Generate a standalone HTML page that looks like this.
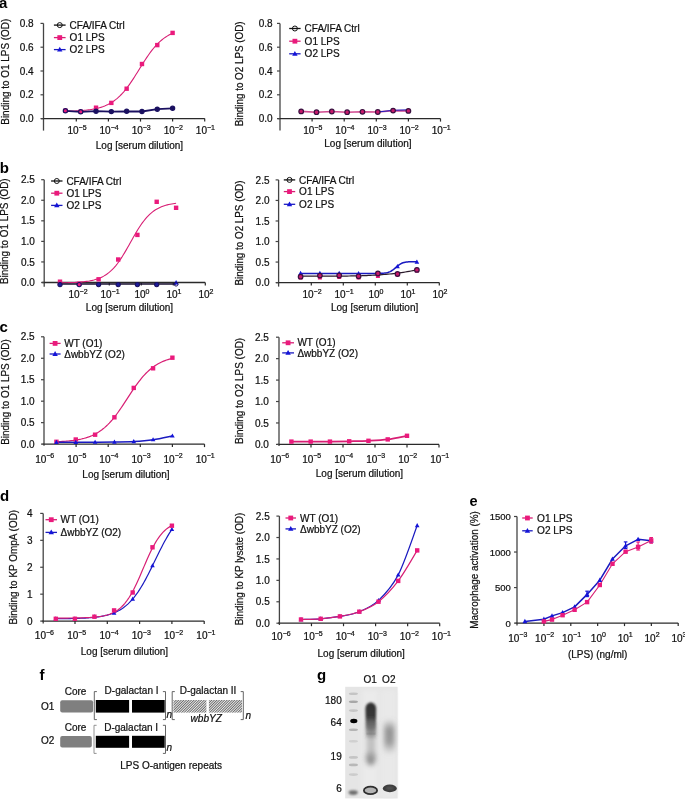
<!DOCTYPE html>
<html><head><meta charset="utf-8"><style>
html,body{margin:0;padding:0;background:#fff;}
svg{display:block;font-family:"Liberation Sans",sans-serif;will-change:transform;}
</style></head><body>
<svg width="685" height="799" viewBox="0 0 685 799" font-family="Liberation Sans, sans-serif">
<rect width="685" height="799" fill="#fff"/>
<text transform="translate(-1.00,7.80) scale(1.0000,1)" font-size="15.000" text-anchor="start" font-weight="bold" font-style="normal" fill="#000" stroke="#000" stroke-width="0" >a</text>
<line x1="43.50" y1="23.40" x2="43.50" y2="130.60" stroke="#444" stroke-width="1.3"/>
<line x1="41.00" y1="118.60" x2="204.80" y2="118.60" stroke="#2a2a2a" stroke-width="1.3"/>
<line x1="40.50" y1="118.60" x2="43.50" y2="118.60" stroke="#444" stroke-width="1.2"/>
<text transform="translate(33.60,122.20) scale(1.0000,1)" font-size="10.000" text-anchor="end" font-weight="normal" font-style="normal" fill="#111" stroke="#111" stroke-width="0.22" >0.0</text>
<line x1="40.50" y1="94.80" x2="43.50" y2="94.80" stroke="#444" stroke-width="1.2"/>
<text transform="translate(33.60,98.40) scale(1.0000,1)" font-size="10.000" text-anchor="end" font-weight="normal" font-style="normal" fill="#111" stroke="#111" stroke-width="0.22" >0.2</text>
<line x1="40.50" y1="71.00" x2="43.50" y2="71.00" stroke="#444" stroke-width="1.2"/>
<text transform="translate(33.60,74.60) scale(1.0000,1)" font-size="10.000" text-anchor="end" font-weight="normal" font-style="normal" fill="#111" stroke="#111" stroke-width="0.22" >0.4</text>
<line x1="40.50" y1="47.20" x2="43.50" y2="47.20" stroke="#444" stroke-width="1.2"/>
<text transform="translate(33.60,50.80) scale(1.0000,1)" font-size="10.000" text-anchor="end" font-weight="normal" font-style="normal" fill="#111" stroke="#111" stroke-width="0.22" >0.6</text>
<line x1="40.50" y1="23.40" x2="43.50" y2="23.40" stroke="#444" stroke-width="1.2"/>
<text transform="translate(33.60,27.00) scale(1.0000,1)" font-size="10.000" text-anchor="end" font-weight="normal" font-style="normal" fill="#111" stroke="#111" stroke-width="0.22" >0.8</text>
<line x1="76.30" y1="118.60" x2="76.30" y2="121.60" stroke="#2a2a2a" stroke-width="1.2"/>
<line x1="108.40" y1="118.60" x2="108.40" y2="121.60" stroke="#2a2a2a" stroke-width="1.2"/>
<line x1="140.50" y1="118.60" x2="140.50" y2="121.60" stroke="#2a2a2a" stroke-width="1.2"/>
<line x1="172.60" y1="118.60" x2="172.60" y2="121.60" stroke="#2a2a2a" stroke-width="1.2"/>
<line x1="204.70" y1="118.60" x2="204.70" y2="121.60" stroke="#2a2a2a" stroke-width="1.2"/>
<text transform="translate(77.00,133.70) scale(1.0000,1)" font-size="10.000" text-anchor="middle" fill="#111" stroke="#111" stroke-width="0.22">10<tspan font-size="7.000" dy="-4.2">−5</tspan></text>
<text transform="translate(109.10,133.70) scale(1.0000,1)" font-size="10.000" text-anchor="middle" fill="#111" stroke="#111" stroke-width="0.22">10<tspan font-size="7.000" dy="-4.2">−4</tspan></text>
<text transform="translate(141.20,133.70) scale(1.0000,1)" font-size="10.000" text-anchor="middle" fill="#111" stroke="#111" stroke-width="0.22">10<tspan font-size="7.000" dy="-4.2">−3</tspan></text>
<text transform="translate(173.30,133.70) scale(1.0000,1)" font-size="10.000" text-anchor="middle" fill="#111" stroke="#111" stroke-width="0.22">10<tspan font-size="7.000" dy="-4.2">−2</tspan></text>
<text transform="translate(205.40,133.70) scale(1.0000,1)" font-size="10.000" text-anchor="middle" fill="#111" stroke="#111" stroke-width="0.22">10<tspan font-size="7.000" dy="-4.2">−1</tspan></text>
<text transform="translate(139.40,149.40) scale(1.0000,1)" font-size="10.000" text-anchor="middle" font-weight="normal" font-style="normal" fill="#111" stroke="#111" stroke-width="0.22" >Log [serum dilution]</text>
<text x="0" y="0" font-size="9.95" text-anchor="middle" fill="#111" stroke="#111" stroke-width="0.22" transform="translate(8.70,71.70) scale(1.05,1) rotate(-90)">Binding to O1 LPS (OD)</text>
<path d="M65.39,111.27 L66.75,111.23 L68.11,111.20 L69.46,111.16 L70.82,111.12 L72.18,111.07 L73.53,111.01 L74.89,110.95 L76.25,110.89 L77.60,110.81 L78.96,110.73 L80.32,110.64 L81.68,110.54 L83.03,110.43 L84.39,110.31 L85.75,110.18 L87.10,110.03 L88.46,109.86 L89.82,109.68 L91.18,109.48 L92.53,109.26 L93.89,109.02 L95.25,108.75 L96.60,108.45 L97.96,108.12 L99.32,107.76 L100.67,107.37 L102.03,106.93 L103.39,106.46 L104.75,105.93 L106.10,105.36 L107.46,104.74 L108.82,104.06 L110.17,103.32 L111.53,102.51 L112.89,101.64 L114.25,100.69 L115.60,99.67 L116.96,98.56 L118.32,97.38 L119.67,96.11 L121.03,94.75 L122.39,93.31 L123.75,91.78 L125.10,90.16 L126.46,88.46 L127.82,86.68 L129.17,84.82 L130.53,82.88 L131.89,80.89 L133.24,78.83 L134.60,76.73 L135.96,74.58 L137.32,72.42 L138.67,70.23 L140.03,68.04 L141.39,65.86 L142.74,63.70 L144.10,61.56 L145.46,59.47 L146.82,57.43 L148.17,55.45 L149.53,53.53 L150.89,51.69 L152.24,49.93 L153.60,48.25 L154.96,46.66 L156.32,45.15 L157.67,43.73 L159.03,42.40 L160.39,41.15 L161.74,39.99 L163.10,38.91 L164.46,37.91 L165.81,36.98 L167.17,36.13 L168.53,35.34 L169.89,34.61 L171.24,33.95 L172.60,33.34" fill="none" stroke="#d81e74" stroke-width="1.1"/>
<polyline points="65.39,110.80 80.71,111.80 96.02,111.20 111.34,111.60 126.65,111.30 141.97,111.50 157.28,109.20 172.60,108.30" fill="none" stroke="#1a1060" stroke-width="1.8" stroke-linejoin="round"/>
<rect x="63.19" y="108.50" width="4.4" height="4.4" fill="#ea1a7c"/>
<rect x="78.51" y="109.50" width="4.4" height="4.4" fill="#ea1a7c"/>
<rect x="93.82" y="105.50" width="4.4" height="4.4" fill="#ea1a7c"/>
<rect x="109.14" y="100.70" width="4.4" height="4.4" fill="#ea1a7c"/>
<rect x="124.45" y="86.50" width="4.4" height="4.4" fill="#ea1a7c"/>
<rect x="139.77" y="61.80" width="4.4" height="4.4" fill="#ea1a7c"/>
<rect x="155.08" y="42.90" width="4.4" height="4.4" fill="#ea1a7c"/>
<rect x="170.40" y="30.70" width="4.4" height="4.4" fill="#ea1a7c"/>
<circle cx="65.39" cy="110.80" r="2.1" fill="#ea1a7c" stroke="#1a1060" stroke-width="1.2"/>
<circle cx="80.71" cy="111.80" r="2.1" fill="#ea1a7c" stroke="#1a1060" stroke-width="1.2"/>
<circle cx="96.02" cy="111.20" r="2.1" fill="#1a1060" stroke="#1a1060" stroke-width="1.2"/>
<circle cx="111.34" cy="111.60" r="2.1" fill="#1a1060" stroke="#1a1060" stroke-width="1.2"/>
<circle cx="126.65" cy="111.30" r="2.1" fill="#1a1060" stroke="#1a1060" stroke-width="1.2"/>
<circle cx="141.97" cy="111.50" r="2.1" fill="#1a1060" stroke="#1a1060" stroke-width="1.2"/>
<circle cx="157.28" cy="109.20" r="2.1" fill="#1a1060" stroke="#1a1060" stroke-width="1.2"/>
<circle cx="172.60" cy="108.30" r="2.1" fill="#1a1060" stroke="#1a1060" stroke-width="1.2"/>
<line x1="53.90" y1="25.10" x2="65.60" y2="25.10" stroke="#111" stroke-width="1.3"/>
<circle cx="59.75" cy="25.10" r="2.5" fill="none" stroke="#111" stroke-width="1.0"/>
<text transform="translate(69.60,28.70) scale(1.0000,1)" font-size="10.000" text-anchor="start" font-weight="normal" font-style="normal" fill="#111" stroke="#111" stroke-width="0.22" >CFA/IFA Ctrl</text>
<line x1="53.90" y1="37.60" x2="65.60" y2="37.60" stroke="#d81e74" stroke-width="1.3"/>
<rect x="57.35" y="35.20" width="4.8" height="4.8" fill="#ea1a7c"/>
<text transform="translate(69.60,41.20) scale(1.0000,1)" font-size="10.000" text-anchor="start" font-weight="normal" font-style="normal" fill="#111" stroke="#111" stroke-width="0.22" >O1 LPS</text>
<line x1="53.90" y1="49.60" x2="65.60" y2="49.60" stroke="#1a1ac0" stroke-width="1.3"/>
<path d="M59.75,46.68 L62.45,51.54 L57.05,51.54 Z" fill="#1414d8"/>
<text transform="translate(69.60,53.20) scale(1.0000,1)" font-size="10.000" text-anchor="start" font-weight="normal" font-style="normal" fill="#111" stroke="#111" stroke-width="0.22" >O2 LPS</text>
<line x1="280.00" y1="23.40" x2="280.00" y2="130.60" stroke="#444" stroke-width="1.3"/>
<line x1="277.50" y1="118.60" x2="440.50" y2="118.60" stroke="#2a2a2a" stroke-width="1.3"/>
<line x1="277.00" y1="118.60" x2="280.00" y2="118.60" stroke="#444" stroke-width="1.2"/>
<text transform="translate(272.60,122.20) scale(1.0000,1)" font-size="10.000" text-anchor="end" font-weight="normal" font-style="normal" fill="#111" stroke="#111" stroke-width="0.22" >0.0</text>
<line x1="277.00" y1="94.80" x2="280.00" y2="94.80" stroke="#444" stroke-width="1.2"/>
<text transform="translate(272.60,98.40) scale(1.0000,1)" font-size="10.000" text-anchor="end" font-weight="normal" font-style="normal" fill="#111" stroke="#111" stroke-width="0.22" >0.2</text>
<line x1="277.00" y1="71.00" x2="280.00" y2="71.00" stroke="#444" stroke-width="1.2"/>
<text transform="translate(272.60,74.60) scale(1.0000,1)" font-size="10.000" text-anchor="end" font-weight="normal" font-style="normal" fill="#111" stroke="#111" stroke-width="0.22" >0.4</text>
<line x1="277.00" y1="47.20" x2="280.00" y2="47.20" stroke="#444" stroke-width="1.2"/>
<text transform="translate(272.60,50.80) scale(1.0000,1)" font-size="10.000" text-anchor="end" font-weight="normal" font-style="normal" fill="#111" stroke="#111" stroke-width="0.22" >0.6</text>
<line x1="277.00" y1="23.40" x2="280.00" y2="23.40" stroke="#444" stroke-width="1.2"/>
<text transform="translate(272.60,27.00) scale(1.0000,1)" font-size="10.000" text-anchor="end" font-weight="normal" font-style="normal" fill="#111" stroke="#111" stroke-width="0.22" >0.8</text>
<line x1="312.10" y1="118.60" x2="312.10" y2="121.60" stroke="#2a2a2a" stroke-width="1.2"/>
<line x1="344.20" y1="118.60" x2="344.20" y2="121.60" stroke="#2a2a2a" stroke-width="1.2"/>
<line x1="376.30" y1="118.60" x2="376.30" y2="121.60" stroke="#2a2a2a" stroke-width="1.2"/>
<line x1="408.40" y1="118.60" x2="408.40" y2="121.60" stroke="#2a2a2a" stroke-width="1.2"/>
<line x1="440.50" y1="118.60" x2="440.50" y2="121.60" stroke="#2a2a2a" stroke-width="1.2"/>
<text transform="translate(312.80,133.70) scale(1.0000,1)" font-size="10.000" text-anchor="middle" fill="#111" stroke="#111" stroke-width="0.22">10<tspan font-size="7.000" dy="-4.2">−5</tspan></text>
<text transform="translate(344.90,133.70) scale(1.0000,1)" font-size="10.000" text-anchor="middle" fill="#111" stroke="#111" stroke-width="0.22">10<tspan font-size="7.000" dy="-4.2">−4</tspan></text>
<text transform="translate(377.00,133.70) scale(1.0000,1)" font-size="10.000" text-anchor="middle" fill="#111" stroke="#111" stroke-width="0.22">10<tspan font-size="7.000" dy="-4.2">−3</tspan></text>
<text transform="translate(409.10,133.70) scale(1.0000,1)" font-size="10.000" text-anchor="middle" fill="#111" stroke="#111" stroke-width="0.22">10<tspan font-size="7.000" dy="-4.2">−2</tspan></text>
<text transform="translate(441.20,133.70) scale(1.0000,1)" font-size="10.000" text-anchor="middle" fill="#111" stroke="#111" stroke-width="0.22">10<tspan font-size="7.000" dy="-4.2">−1</tspan></text>
<text transform="translate(367.90,147.30) scale(1.0000,1)" font-size="10.000" text-anchor="middle" font-weight="normal" font-style="normal" fill="#111" stroke="#111" stroke-width="0.22" >Log [serum dilution]</text>
<text x="0" y="0" font-size="9.85" text-anchor="middle" fill="#111" stroke="#111" stroke-width="0.22" transform="translate(242.80,73.90) scale(1.05,1) rotate(-90)">Binding to O2 LPS (OD)</text>
<polyline points="301.19,111.40 316.51,112.20 331.82,111.50 347.14,112.20 362.45,111.80 377.77,112.00 393.08,110.60 408.40,110.90" fill="none" stroke="#d04a90" stroke-width="1.6" stroke-linejoin="round"/>
<polyline points="377.77,112.00 393.08,110.30 408.40,109.80" fill="none" stroke="#1a1ac0" stroke-width="1.0" stroke-linejoin="round"/>
<circle cx="301.19" cy="111.40" r="2.3" fill="#c8186a" stroke="#3a1040" stroke-width="1.2"/>
<circle cx="316.51" cy="112.20" r="2.3" fill="#c8186a" stroke="#3a1040" stroke-width="1.2"/>
<circle cx="331.82" cy="111.50" r="2.3" fill="#c8186a" stroke="#3a1040" stroke-width="1.2"/>
<circle cx="347.14" cy="112.20" r="2.3" fill="#c8186a" stroke="#3a1040" stroke-width="1.2"/>
<circle cx="362.45" cy="111.80" r="2.3" fill="#c8186a" stroke="#3a1040" stroke-width="1.2"/>
<circle cx="377.77" cy="112.00" r="2.3" fill="#c8186a" stroke="#3a1040" stroke-width="1.2"/>
<circle cx="393.08" cy="110.60" r="2.3" fill="#c8186a" stroke="#3a1040" stroke-width="1.2"/>
<circle cx="408.40" cy="110.90" r="2.3" fill="#c8186a" stroke="#3a1040" stroke-width="1.2"/>
<line x1="289.20" y1="28.50" x2="300.60" y2="28.50" stroke="#111" stroke-width="1.3"/>
<circle cx="294.90" cy="28.50" r="2.5" fill="none" stroke="#111" stroke-width="1.0"/>
<text transform="translate(304.60,32.10) scale(1.0000,1)" font-size="10.000" text-anchor="start" font-weight="normal" font-style="normal" fill="#111" stroke="#111" stroke-width="0.22" >CFA/IFA Ctrl</text>
<line x1="289.20" y1="41.20" x2="300.60" y2="41.20" stroke="#d81e74" stroke-width="1.3"/>
<rect x="292.50" y="38.80" width="4.8" height="4.8" fill="#ea1a7c"/>
<text transform="translate(304.60,44.80) scale(1.0000,1)" font-size="10.000" text-anchor="start" font-weight="normal" font-style="normal" fill="#111" stroke="#111" stroke-width="0.22" >O1 LPS</text>
<line x1="289.20" y1="53.80" x2="300.60" y2="53.80" stroke="#1a1ac0" stroke-width="1.3"/>
<path d="M294.90,50.88 L297.60,55.74 L292.20,55.74 Z" fill="#1414d8"/>
<text transform="translate(304.60,57.40) scale(1.0000,1)" font-size="10.000" text-anchor="start" font-weight="normal" font-style="normal" fill="#111" stroke="#111" stroke-width="0.22" >O2 LPS</text>
<text transform="translate(-0.30,172.80) scale(1.0000,1)" font-size="15.000" text-anchor="start" font-weight="bold" font-style="normal" fill="#000" stroke="#000" stroke-width="0" >b</text>
<line x1="44.20" y1="179.70" x2="44.20" y2="286.70" stroke="#444" stroke-width="1.3"/>
<line x1="41.80" y1="282.50" x2="205.20" y2="282.50" stroke="#2a2a2a" stroke-width="1.3"/>
<line x1="41.20" y1="282.50" x2="44.20" y2="282.50" stroke="#444" stroke-width="1.2"/>
<text transform="translate(34.90,286.10) scale(1.0000,1)" font-size="10.000" text-anchor="end" font-weight="normal" font-style="normal" fill="#111" stroke="#111" stroke-width="0.22" >0.0</text>
<line x1="41.20" y1="261.94" x2="44.20" y2="261.94" stroke="#444" stroke-width="1.2"/>
<text transform="translate(34.90,265.54) scale(1.0000,1)" font-size="10.000" text-anchor="end" font-weight="normal" font-style="normal" fill="#111" stroke="#111" stroke-width="0.22" >0.5</text>
<line x1="41.20" y1="241.38" x2="44.20" y2="241.38" stroke="#444" stroke-width="1.2"/>
<text transform="translate(34.90,244.98) scale(1.0000,1)" font-size="10.000" text-anchor="end" font-weight="normal" font-style="normal" fill="#111" stroke="#111" stroke-width="0.22" >1.0</text>
<line x1="41.20" y1="220.82" x2="44.20" y2="220.82" stroke="#444" stroke-width="1.2"/>
<text transform="translate(34.90,224.42) scale(1.0000,1)" font-size="10.000" text-anchor="end" font-weight="normal" font-style="normal" fill="#111" stroke="#111" stroke-width="0.22" >1.5</text>
<line x1="41.20" y1="200.26" x2="44.20" y2="200.26" stroke="#444" stroke-width="1.2"/>
<text transform="translate(34.90,203.86) scale(1.0000,1)" font-size="10.000" text-anchor="end" font-weight="normal" font-style="normal" fill="#111" stroke="#111" stroke-width="0.22" >2.0</text>
<line x1="41.20" y1="179.70" x2="44.20" y2="179.70" stroke="#444" stroke-width="1.2"/>
<text transform="translate(34.90,183.30) scale(1.0000,1)" font-size="10.000" text-anchor="end" font-weight="normal" font-style="normal" fill="#111" stroke="#111" stroke-width="0.22" >2.5</text>
<line x1="77.30" y1="282.50" x2="77.30" y2="285.50" stroke="#2a2a2a" stroke-width="1.2"/>
<line x1="109.30" y1="282.50" x2="109.30" y2="285.50" stroke="#2a2a2a" stroke-width="1.2"/>
<line x1="141.30" y1="282.50" x2="141.30" y2="285.50" stroke="#2a2a2a" stroke-width="1.2"/>
<line x1="173.30" y1="282.50" x2="173.30" y2="285.50" stroke="#2a2a2a" stroke-width="1.2"/>
<line x1="205.30" y1="282.50" x2="205.30" y2="285.50" stroke="#2a2a2a" stroke-width="1.2"/>
<text transform="translate(78.00,298.10) scale(1.0000,1)" font-size="10.000" text-anchor="middle" fill="#111" stroke="#111" stroke-width="0.22">10<tspan font-size="7.000" dy="-4.2">−2</tspan></text>
<text transform="translate(110.00,298.10) scale(1.0000,1)" font-size="10.000" text-anchor="middle" fill="#111" stroke="#111" stroke-width="0.22">10<tspan font-size="7.000" dy="-4.2">−1</tspan></text>
<text transform="translate(142.00,298.10) scale(1.0000,1)" font-size="10.000" text-anchor="middle" fill="#111" stroke="#111" stroke-width="0.22">10<tspan font-size="7.000" dy="-4.2">0</tspan></text>
<text transform="translate(174.00,298.10) scale(1.0000,1)" font-size="10.000" text-anchor="middle" fill="#111" stroke="#111" stroke-width="0.22">10<tspan font-size="7.000" dy="-4.2">1</tspan></text>
<text transform="translate(206.00,298.10) scale(1.0000,1)" font-size="10.000" text-anchor="middle" fill="#111" stroke="#111" stroke-width="0.22">10<tspan font-size="7.000" dy="-4.2">2</tspan></text>
<text transform="translate(129.50,310.50) scale(1.0000,1)" font-size="10.000" text-anchor="middle" font-weight="normal" font-style="normal" fill="#111" stroke="#111" stroke-width="0.22" >Log [serum dilution]</text>
<text x="0" y="0" font-size="9.9" text-anchor="middle" fill="#111" stroke="#111" stroke-width="0.22" transform="translate(8.20,231.20) scale(1.05,1) rotate(-90)">Binding to O1 LPS (OD)</text>
<path d="M60.00,282.85 L61.47,282.83 L62.94,282.81 L64.41,282.78 L65.88,282.75 L67.35,282.71 L68.82,282.67 L70.29,282.62 L71.76,282.57 L73.23,282.51 L74.70,282.44 L76.17,282.36 L77.64,282.27 L79.11,282.16 L80.57,282.05 L82.04,281.92 L83.51,281.77 L84.98,281.60 L86.45,281.40 L87.92,281.18 L89.39,280.94 L90.86,280.66 L92.33,280.34 L93.80,279.98 L95.27,279.58 L96.74,279.12 L98.21,278.61 L99.68,278.04 L101.15,277.39 L102.62,276.67 L104.09,275.87 L105.56,274.97 L107.03,273.98 L108.50,272.88 L109.97,271.67 L111.44,270.33 L112.91,268.88 L114.38,267.29 L115.85,265.58 L117.32,263.73 L118.78,261.75 L120.25,259.64 L121.72,257.42 L123.19,255.08 L124.66,252.65 L126.13,250.14 L127.60,247.56 L129.07,244.95 L130.54,242.31 L132.01,239.67 L133.48,237.06 L134.95,234.49 L136.42,231.99 L137.89,229.57 L139.36,227.24 L140.83,225.03 L142.30,222.94 L143.77,220.97 L145.24,219.14 L146.71,217.44 L148.18,215.86 L149.65,214.42 L151.12,213.10 L152.59,211.90 L154.06,210.82 L155.53,209.83 L156.99,208.95 L158.46,208.15 L159.93,207.44 L161.40,206.81 L162.87,206.24 L164.34,205.73 L165.81,205.28 L167.28,204.89 L168.75,204.53 L170.22,204.22 L171.69,203.94 L173.16,203.70 L174.63,203.48 L176.10,203.29" fill="none" stroke="#d81e74" stroke-width="1.1"/>
<polyline points="60.00,284.00 79.20,284.00 98.60,284.00 118.20,284.00 137.40,284.00 156.70,284.00 176.10,284.00" fill="none" stroke="#1a1030" stroke-width="1.3" stroke-linejoin="round"/>
<rect x="57.80" y="279.50" width="4.4" height="4.4" fill="#ea1a7c"/>
<rect x="77.00" y="281.60" width="4.4" height="4.4" fill="#ea1a7c"/>
<rect x="96.40" y="277.10" width="4.4" height="4.4" fill="#ea1a7c"/>
<rect x="116.00" y="257.30" width="4.4" height="4.4" fill="#ea1a7c"/>
<rect x="135.20" y="232.70" width="4.4" height="4.4" fill="#ea1a7c"/>
<rect x="154.50" y="199.60" width="4.4" height="4.4" fill="#ea1a7c"/>
<rect x="173.90" y="205.60" width="4.4" height="4.4" fill="#ea1a7c"/>
<circle cx="60.00" cy="284.60" r="2.1" fill="#1c1c9c" stroke="#1a1060" stroke-width="1.1"/>
<circle cx="79.20" cy="284.60" r="2.1" fill="#ea1a7c" stroke="#1a1060" stroke-width="1.1"/>
<circle cx="98.60" cy="284.60" r="2.1" fill="#1c1c9c" stroke="#1a1060" stroke-width="1.1"/>
<circle cx="118.20" cy="284.60" r="2.1" fill="#1c1c9c" stroke="#1a1060" stroke-width="1.1"/>
<circle cx="137.40" cy="284.60" r="2.1" fill="#1c1c9c" stroke="#1a1060" stroke-width="1.1"/>
<circle cx="156.70" cy="284.60" r="2.1" fill="#1c1c9c" stroke="#1a1060" stroke-width="1.1"/>
<path d="M176.10,279.90 L178.60,284.40 L173.60,284.40 Z" fill="#1414d8"/>
<circle cx="176.10" cy="284.20" r="1.9" fill="none" stroke="#1a1060" stroke-width="1.0"/>
<line x1="51.10" y1="181.00" x2="62.50" y2="181.00" stroke="#111" stroke-width="1.3"/>
<circle cx="56.80" cy="181.00" r="2.5" fill="none" stroke="#111" stroke-width="1.0"/>
<text transform="translate(66.40,184.60) scale(1.0000,1)" font-size="10.000" text-anchor="start" font-weight="normal" font-style="normal" fill="#111" stroke="#111" stroke-width="0.22" >CFA/IFA Ctrl</text>
<line x1="51.10" y1="193.20" x2="62.50" y2="193.20" stroke="#d81e74" stroke-width="1.3"/>
<rect x="54.40" y="190.80" width="4.8" height="4.8" fill="#ea1a7c"/>
<text transform="translate(66.40,196.80) scale(1.0000,1)" font-size="10.000" text-anchor="start" font-weight="normal" font-style="normal" fill="#111" stroke="#111" stroke-width="0.22" >O1 LPS</text>
<line x1="51.10" y1="205.40" x2="62.50" y2="205.40" stroke="#1a1ac0" stroke-width="1.3"/>
<path d="M56.80,202.48 L59.50,207.34 L54.10,207.34 Z" fill="#1414d8"/>
<text transform="translate(66.40,209.00) scale(1.0000,1)" font-size="10.000" text-anchor="start" font-weight="normal" font-style="normal" fill="#111" stroke="#111" stroke-width="0.22" >O2 LPS</text>
<line x1="278.60" y1="179.90" x2="278.60" y2="286.60" stroke="#444" stroke-width="1.3"/>
<line x1="276.00" y1="282.60" x2="439.30" y2="282.60" stroke="#2a2a2a" stroke-width="1.3"/>
<line x1="275.60" y1="282.60" x2="278.60" y2="282.60" stroke="#444" stroke-width="1.2"/>
<text transform="translate(269.50,286.20) scale(1.0000,1)" font-size="10.000" text-anchor="end" font-weight="normal" font-style="normal" fill="#111" stroke="#111" stroke-width="0.22" >0.0</text>
<line x1="275.60" y1="262.06" x2="278.60" y2="262.06" stroke="#444" stroke-width="1.2"/>
<text transform="translate(269.50,265.66) scale(1.0000,1)" font-size="10.000" text-anchor="end" font-weight="normal" font-style="normal" fill="#111" stroke="#111" stroke-width="0.22" >0.5</text>
<line x1="275.60" y1="241.52" x2="278.60" y2="241.52" stroke="#444" stroke-width="1.2"/>
<text transform="translate(269.50,245.12) scale(1.0000,1)" font-size="10.000" text-anchor="end" font-weight="normal" font-style="normal" fill="#111" stroke="#111" stroke-width="0.22" >1.0</text>
<line x1="275.60" y1="220.98" x2="278.60" y2="220.98" stroke="#444" stroke-width="1.2"/>
<text transform="translate(269.50,224.58) scale(1.0000,1)" font-size="10.000" text-anchor="end" font-weight="normal" font-style="normal" fill="#111" stroke="#111" stroke-width="0.22" >1.5</text>
<line x1="275.60" y1="200.44" x2="278.60" y2="200.44" stroke="#444" stroke-width="1.2"/>
<text transform="translate(269.50,204.04) scale(1.0000,1)" font-size="10.000" text-anchor="end" font-weight="normal" font-style="normal" fill="#111" stroke="#111" stroke-width="0.22" >2.0</text>
<line x1="275.60" y1="179.90" x2="278.60" y2="179.90" stroke="#444" stroke-width="1.2"/>
<text transform="translate(269.50,183.50) scale(1.0000,1)" font-size="10.000" text-anchor="end" font-weight="normal" font-style="normal" fill="#111" stroke="#111" stroke-width="0.22" >2.5</text>
<line x1="311.30" y1="282.60" x2="311.30" y2="285.60" stroke="#2a2a2a" stroke-width="1.2"/>
<line x1="343.30" y1="282.60" x2="343.30" y2="285.60" stroke="#2a2a2a" stroke-width="1.2"/>
<line x1="375.30" y1="282.60" x2="375.30" y2="285.60" stroke="#2a2a2a" stroke-width="1.2"/>
<line x1="407.30" y1="282.60" x2="407.30" y2="285.60" stroke="#2a2a2a" stroke-width="1.2"/>
<line x1="439.30" y1="282.60" x2="439.30" y2="285.60" stroke="#2a2a2a" stroke-width="1.2"/>
<text transform="translate(312.00,297.90) scale(1.0000,1)" font-size="10.000" text-anchor="middle" fill="#111" stroke="#111" stroke-width="0.22">10<tspan font-size="7.000" dy="-4.2">−2</tspan></text>
<text transform="translate(344.00,297.90) scale(1.0000,1)" font-size="10.000" text-anchor="middle" fill="#111" stroke="#111" stroke-width="0.22">10<tspan font-size="7.000" dy="-4.2">−1</tspan></text>
<text transform="translate(376.00,297.90) scale(1.0000,1)" font-size="10.000" text-anchor="middle" fill="#111" stroke="#111" stroke-width="0.22">10<tspan font-size="7.000" dy="-4.2">0</tspan></text>
<text transform="translate(408.00,297.90) scale(1.0000,1)" font-size="10.000" text-anchor="middle" fill="#111" stroke="#111" stroke-width="0.22">10<tspan font-size="7.000" dy="-4.2">1</tspan></text>
<text transform="translate(440.00,297.90) scale(1.0000,1)" font-size="10.000" text-anchor="middle" fill="#111" stroke="#111" stroke-width="0.22">10<tspan font-size="7.000" dy="-4.2">2</tspan></text>
<text transform="translate(374.60,310.80) scale(1.0000,1)" font-size="10.000" text-anchor="middle" font-weight="normal" font-style="normal" fill="#111" stroke="#111" stroke-width="0.22" >Log [serum dilution]</text>
<text x="0" y="0" font-size="9.85" text-anchor="middle" fill="#111" stroke="#111" stroke-width="0.22" transform="translate(242.80,233.00) scale(1.05,1) rotate(-90)">Binding to O2 LPS (OD)</text>
<path d="M300.60,273.40 L301.76,273.40 L302.93,273.40 L304.09,273.40 L305.25,273.40 L306.42,273.40 L307.58,273.40 L308.74,273.40 L309.90,273.40 L311.07,273.40 L312.23,273.40 L313.39,273.40 L314.56,273.40 L315.72,273.40 L316.88,273.40 L318.05,273.40 L319.21,273.40 L320.37,273.40 L321.53,273.40 L322.70,273.40 L323.86,273.40 L325.02,273.40 L326.19,273.40 L327.35,273.40 L328.51,273.40 L329.68,273.40 L330.84,273.40 L332.00,273.40 L333.16,273.40 L334.33,273.40 L335.49,273.40 L336.65,273.40 L337.82,273.40 L338.98,273.40 L340.14,273.40 L341.31,273.40 L342.47,273.40 L343.63,273.40 L344.79,273.40 L345.96,273.40 L347.12,273.40 L348.28,273.40 L349.45,273.40 L350.61,273.40 L351.77,273.40 L352.94,273.40 L354.10,273.40 L355.26,273.40 L356.42,273.40 L357.59,273.40 L358.75,273.40 L359.91,273.40 L361.08,273.40 L362.24,273.40 L363.40,273.40 L364.57,273.40 L365.73,273.40 L366.89,273.40 L368.05,273.40 L369.22,273.40 L370.38,273.39 L371.54,273.39 L372.71,273.39 L373.87,273.38 L375.03,273.38 L376.20,273.37 L377.36,273.36 L378.52,273.34 L379.68,273.31 L380.85,273.27 L382.01,273.22 L383.17,273.15 L384.34,273.05 L385.50,272.90 L386.66,272.70 L387.83,272.43 L388.99,272.07 L390.15,271.60 L391.31,270.99 L392.48,270.24 L393.64,269.36 L394.80,268.38 L395.97,267.35 L397.13,266.33 L398.29,265.37 L399.46,264.53 L400.62,263.82 L401.78,263.26 L402.94,262.81 L404.11,262.48 L405.27,262.23 L406.43,262.05 L407.60,261.92 L408.76,261.83 L409.92,261.76 L411.09,261.71 L412.25,261.68 L413.41,261.66 L414.57,261.64 L415.74,261.63 L416.90,261.62" fill="none" stroke="#1a1ac0" stroke-width="1.5"/>
<path d="M300.60,276.20 L302.54,276.20 L304.48,276.20 L306.42,276.20 L308.35,276.20 L310.29,276.20 L312.23,276.20 L314.17,276.20 L316.11,276.20 L318.05,276.20 L319.98,276.20 L321.92,276.19 L323.86,276.19 L325.80,276.19 L327.74,276.18 L329.68,276.18 L331.61,276.17 L333.55,276.16 L335.49,276.15 L337.43,276.14 L339.37,276.12 L341.31,276.10 L343.24,276.08 L345.18,276.06 L347.12,276.04 L349.06,276.01 L351.00,275.97 L352.94,275.94 L354.87,275.90 L356.81,275.85 L358.75,275.80 L360.69,275.74 L362.63,275.68 L364.56,275.61 L366.50,275.54 L368.44,275.46 L370.38,275.37 L372.32,275.27 L374.26,275.17 L376.20,275.06 L378.13,274.94 L380.07,274.80 L382.01,274.66 L383.95,274.51 L385.89,274.35 L387.83,274.18 L389.76,273.99 L391.70,273.79 L393.64,273.58 L395.58,273.35 L397.52,273.11 L399.46,272.86 L401.39,272.59 L403.33,272.30 L405.27,272.00 L407.21,271.68 L409.15,271.34 L411.09,270.99 L413.02,270.61 L414.96,270.22 L416.90,269.80" fill="none" stroke="#2a1a2a" stroke-width="1.2"/>
<path d="M300.60,270.82 L302.90,274.96 L298.30,274.96 Z" fill="#1414d8"/>
<path d="M319.90,270.82 L322.20,274.96 L317.60,274.96 Z" fill="#1414d8"/>
<path d="M339.20,270.82 L341.50,274.96 L336.90,274.96 Z" fill="#1414d8"/>
<path d="M358.60,271.02 L360.90,275.16 L356.30,275.16 Z" fill="#1414d8"/>
<path d="M377.90,270.92 L380.20,275.06 L375.60,275.06 Z" fill="#1414d8"/>
<path d="M397.50,264.12 L399.80,268.26 L395.20,268.26 Z" fill="#1414d8"/>
<path d="M416.90,259.52 L419.20,263.66 L414.60,263.66 Z" fill="#1414d8"/>
<rect x="298.60" y="275.50" width="4.0" height="4.0" fill="#ea1a7c"/>
<rect x="317.90" y="275.50" width="4.0" height="4.0" fill="#ea1a7c"/>
<rect x="337.20" y="275.00" width="4.0" height="4.0" fill="#ea1a7c"/>
<rect x="356.60" y="275.50" width="4.0" height="4.0" fill="#ea1a7c"/>
<rect x="375.90" y="274.00" width="4.0" height="4.0" fill="#ea1a7c"/>
<rect x="395.50" y="272.50" width="4.0" height="4.0" fill="#ea1a7c"/>
<rect x="414.90" y="268.50" width="4.0" height="4.0" fill="#ea1a7c"/>
<circle cx="300.60" cy="276.70" r="2.3" fill="#c8186a" stroke="#3a1040" stroke-width="1.2"/>
<circle cx="319.90" cy="275.60" r="2.3" fill="#c8186a" stroke="#3a1040" stroke-width="1.2"/>
<circle cx="339.20" cy="275.50" r="2.3" fill="#c8186a" stroke="#3a1040" stroke-width="1.2"/>
<circle cx="358.60" cy="276.30" r="2.3" fill="#c8186a" stroke="#3a1040" stroke-width="1.2"/>
<circle cx="377.90" cy="273.50" r="2.3" fill="#c8186a" stroke="#3a1040" stroke-width="1.2"/>
<circle cx="397.50" cy="274.00" r="2.3" fill="#c8186a" stroke="#3a1040" stroke-width="1.2"/>
<circle cx="416.90" cy="269.90" r="2.3" fill="#c8186a" stroke="#3a1040" stroke-width="1.2"/>
<line x1="283.80" y1="179.90" x2="295.20" y2="179.90" stroke="#111" stroke-width="1.3"/>
<circle cx="289.50" cy="179.90" r="2.5" fill="none" stroke="#111" stroke-width="1.0"/>
<text transform="translate(299.10,183.50) scale(1.0000,1)" font-size="10.000" text-anchor="start" font-weight="normal" font-style="normal" fill="#111" stroke="#111" stroke-width="0.22" >CFA/IFA Ctrl</text>
<line x1="283.80" y1="191.60" x2="295.20" y2="191.60" stroke="#d81e74" stroke-width="1.3"/>
<rect x="287.10" y="189.20" width="4.8" height="4.8" fill="#ea1a7c"/>
<text transform="translate(299.10,195.20) scale(1.0000,1)" font-size="10.000" text-anchor="start" font-weight="normal" font-style="normal" fill="#111" stroke="#111" stroke-width="0.22" >O1 LPS</text>
<line x1="283.80" y1="204.30" x2="295.20" y2="204.30" stroke="#1a1ac0" stroke-width="1.3"/>
<path d="M289.50,201.38 L292.20,206.24 L286.80,206.24 Z" fill="#1414d8"/>
<text transform="translate(299.10,207.90) scale(1.0000,1)" font-size="10.000" text-anchor="start" font-weight="normal" font-style="normal" fill="#111" stroke="#111" stroke-width="0.22" >O2 LPS</text>
<text transform="translate(-0.60,331.60) scale(1.0000,1)" font-size="15.000" text-anchor="start" font-weight="bold" font-style="normal" fill="#000" stroke="#000" stroke-width="0" >c</text>
<line x1="44.00" y1="336.80" x2="44.00" y2="445.80" stroke="#444" stroke-width="1.3"/>
<line x1="42.50" y1="444.10" x2="204.50" y2="444.10" stroke="#2a2a2a" stroke-width="1.3"/>
<line x1="41.00" y1="444.10" x2="44.00" y2="444.10" stroke="#444" stroke-width="1.2"/>
<text transform="translate(34.60,447.70) scale(1.0000,1)" font-size="10.000" text-anchor="end" font-weight="normal" font-style="normal" fill="#111" stroke="#111" stroke-width="0.22" >0.0</text>
<line x1="41.00" y1="422.64" x2="44.00" y2="422.64" stroke="#444" stroke-width="1.2"/>
<text transform="translate(34.60,426.24) scale(1.0000,1)" font-size="10.000" text-anchor="end" font-weight="normal" font-style="normal" fill="#111" stroke="#111" stroke-width="0.22" >0.5</text>
<line x1="41.00" y1="401.18" x2="44.00" y2="401.18" stroke="#444" stroke-width="1.2"/>
<text transform="translate(34.60,404.78) scale(1.0000,1)" font-size="10.000" text-anchor="end" font-weight="normal" font-style="normal" fill="#111" stroke="#111" stroke-width="0.22" >1.0</text>
<line x1="41.00" y1="379.72" x2="44.00" y2="379.72" stroke="#444" stroke-width="1.2"/>
<text transform="translate(34.60,383.32) scale(1.0000,1)" font-size="10.000" text-anchor="end" font-weight="normal" font-style="normal" fill="#111" stroke="#111" stroke-width="0.22" >1.5</text>
<line x1="41.00" y1="358.26" x2="44.00" y2="358.26" stroke="#444" stroke-width="1.2"/>
<text transform="translate(34.60,361.86) scale(1.0000,1)" font-size="10.000" text-anchor="end" font-weight="normal" font-style="normal" fill="#111" stroke="#111" stroke-width="0.22" >2.0</text>
<line x1="41.00" y1="336.80" x2="44.00" y2="336.80" stroke="#444" stroke-width="1.2"/>
<text transform="translate(34.60,340.40) scale(1.0000,1)" font-size="10.000" text-anchor="end" font-weight="normal" font-style="normal" fill="#111" stroke="#111" stroke-width="0.22" >2.5</text>
<line x1="76.10" y1="444.10" x2="76.10" y2="447.10" stroke="#2a2a2a" stroke-width="1.2"/>
<line x1="108.20" y1="444.10" x2="108.20" y2="447.10" stroke="#2a2a2a" stroke-width="1.2"/>
<line x1="140.30" y1="444.10" x2="140.30" y2="447.10" stroke="#2a2a2a" stroke-width="1.2"/>
<line x1="172.40" y1="444.10" x2="172.40" y2="447.10" stroke="#2a2a2a" stroke-width="1.2"/>
<line x1="204.50" y1="444.10" x2="204.50" y2="447.10" stroke="#2a2a2a" stroke-width="1.2"/>
<text transform="translate(44.70,462.50) scale(1.0000,1)" font-size="10.000" text-anchor="middle" fill="#111" stroke="#111" stroke-width="0.22">10<tspan font-size="7.000" dy="-4.2">−6</tspan></text>
<text transform="translate(76.80,462.50) scale(1.0000,1)" font-size="10.000" text-anchor="middle" fill="#111" stroke="#111" stroke-width="0.22">10<tspan font-size="7.000" dy="-4.2">−5</tspan></text>
<text transform="translate(108.90,462.50) scale(1.0000,1)" font-size="10.000" text-anchor="middle" fill="#111" stroke="#111" stroke-width="0.22">10<tspan font-size="7.000" dy="-4.2">−4</tspan></text>
<text transform="translate(141.00,462.50) scale(1.0000,1)" font-size="10.000" text-anchor="middle" fill="#111" stroke="#111" stroke-width="0.22">10<tspan font-size="7.000" dy="-4.2">−3</tspan></text>
<text transform="translate(173.10,462.50) scale(1.0000,1)" font-size="10.000" text-anchor="middle" fill="#111" stroke="#111" stroke-width="0.22">10<tspan font-size="7.000" dy="-4.2">−2</tspan></text>
<text transform="translate(205.20,462.50) scale(1.0000,1)" font-size="10.000" text-anchor="middle" fill="#111" stroke="#111" stroke-width="0.22">10<tspan font-size="7.000" dy="-4.2">−1</tspan></text>
<text transform="translate(126.00,477.70) scale(1.0000,1)" font-size="10.000" text-anchor="middle" font-weight="normal" font-style="normal" fill="#111" stroke="#111" stroke-width="0.22" >Log [serum dilution]</text>
<text x="0" y="0" font-size="9.9" text-anchor="middle" fill="#111" stroke="#111" stroke-width="0.22" transform="translate(8.80,392.00) scale(1.05,1) rotate(-90)">Binding to O1 LPS (OD)</text>
<path d="M56.44,441.73 L57.91,441.67 L59.38,441.60 L60.85,441.52 L62.31,441.44 L63.78,441.34 L65.25,441.23 L66.72,441.12 L68.19,440.99 L69.65,440.84 L71.12,440.69 L72.59,440.51 L74.06,440.32 L75.52,440.10 L76.99,439.87 L78.46,439.61 L79.93,439.32 L81.40,439.01 L82.86,438.66 L84.33,438.28 L85.80,437.86 L87.27,437.40 L88.74,436.90 L90.20,436.35 L91.67,435.75 L93.14,435.09 L94.61,434.37 L96.07,433.59 L97.54,432.74 L99.01,431.82 L100.48,430.82 L101.95,429.75 L103.41,428.59 L104.88,427.35 L106.35,426.02 L107.82,424.60 L109.28,423.09 L110.75,421.50 L112.22,419.81 L113.69,418.03 L115.16,416.18 L116.62,414.24 L118.09,412.23 L119.56,410.15 L121.03,408.02 L122.49,405.84 L123.96,403.62 L125.43,401.38 L126.90,399.12 L128.37,396.85 L129.83,394.60 L131.30,392.37 L132.77,390.17 L134.24,388.02 L135.70,385.91 L137.17,383.87 L138.64,381.90 L140.11,380.01 L141.58,378.20 L143.04,376.47 L144.51,374.84 L145.98,373.29 L147.45,371.83 L148.92,370.46 L150.38,369.18 L151.85,367.99 L153.32,366.88 L154.79,365.85 L156.25,364.90 L157.72,364.02 L159.19,363.21 L160.66,362.46 L162.13,361.78 L163.59,361.15 L165.06,360.58 L166.53,360.05 L168.00,359.58 L169.46,359.14 L170.93,358.74 L172.40,358.38" fill="none" stroke="#d81e74" stroke-width="1.2"/>
<path d="M56.44,442.30 C59.66,442.30 69.33,442.32 75.77,442.30 C82.21,442.28 88.65,442.25 95.10,442.20 C101.54,442.15 107.98,442.12 114.42,442.00 C120.86,441.88 127.31,441.88 133.75,441.50 C140.19,441.12 146.63,440.63 153.07,439.70 C159.52,438.77 169.18,436.53 172.40,435.90" fill="none" stroke="#1a1ac0" stroke-width="1.5"/>
<rect x="54.24" y="439.60" width="4.4" height="4.4" fill="#ea1a7c"/>
<rect x="73.57" y="437.30" width="4.4" height="4.4" fill="#ea1a7c"/>
<rect x="92.90" y="432.50" width="4.4" height="4.4" fill="#ea1a7c"/>
<rect x="112.22" y="415.10" width="4.4" height="4.4" fill="#ea1a7c"/>
<rect x="131.55" y="385.70" width="4.4" height="4.4" fill="#ea1a7c"/>
<rect x="150.87" y="366.10" width="4.4" height="4.4" fill="#ea1a7c"/>
<rect x="170.20" y="355.50" width="4.4" height="4.4" fill="#ea1a7c"/>
<path d="M56.44,439.82 L58.74,443.96 L54.14,443.96 Z" fill="#1414d8"/>
<path d="M75.77,439.82 L78.07,443.96 L73.47,443.96 Z" fill="#1414d8"/>
<path d="M95.10,439.72 L97.40,443.86 L92.80,443.86 Z" fill="#1414d8"/>
<path d="M114.42,439.52 L116.72,443.66 L112.12,443.66 Z" fill="#1414d8"/>
<path d="M133.75,439.02 L136.05,443.16 L131.45,443.16 Z" fill="#1414d8"/>
<path d="M153.07,437.22 L155.37,441.36 L150.77,441.36 Z" fill="#1414d8"/>
<path d="M172.40,433.42 L174.70,437.56 L170.10,437.56 Z" fill="#1414d8"/>
<line x1="49.60" y1="343.40" x2="60.60" y2="343.40" stroke="#d81e74" stroke-width="1.3"/>
<rect x="52.70" y="341.00" width="4.8" height="4.8" fill="#ea1a7c"/>
<text transform="translate(64.20,347.00) scale(1.0000,1)" font-size="10.000" text-anchor="start" font-weight="normal" font-style="normal" fill="#111" stroke="#111" stroke-width="0.22" >WT (O1)</text>
<line x1="49.60" y1="354.00" x2="60.60" y2="354.00" stroke="#1a1ac0" stroke-width="1.3"/>
<path d="M55.10,351.08 L57.80,355.94 L52.40,355.94 Z" fill="#1414d8"/>
<text transform="translate(64.20,357.60) scale(1.0000,1)" font-size="10.000" text-anchor="start" font-weight="normal" font-style="normal" fill="#111" stroke="#111" stroke-width="0.22" >ΔwbbYZ (O2)</text>
<line x1="279.00" y1="337.20" x2="279.00" y2="446.00" stroke="#444" stroke-width="1.3"/>
<line x1="277.50" y1="444.40" x2="439.00" y2="444.40" stroke="#2a2a2a" stroke-width="1.3"/>
<line x1="276.00" y1="444.40" x2="279.00" y2="444.40" stroke="#444" stroke-width="1.2"/>
<text transform="translate(268.80,448.00) scale(1.0000,1)" font-size="10.000" text-anchor="end" font-weight="normal" font-style="normal" fill="#111" stroke="#111" stroke-width="0.22" >0.0</text>
<line x1="276.00" y1="422.96" x2="279.00" y2="422.96" stroke="#444" stroke-width="1.2"/>
<text transform="translate(268.80,426.56) scale(1.0000,1)" font-size="10.000" text-anchor="end" font-weight="normal" font-style="normal" fill="#111" stroke="#111" stroke-width="0.22" >0.5</text>
<line x1="276.00" y1="401.52" x2="279.00" y2="401.52" stroke="#444" stroke-width="1.2"/>
<text transform="translate(268.80,405.12) scale(1.0000,1)" font-size="10.000" text-anchor="end" font-weight="normal" font-style="normal" fill="#111" stroke="#111" stroke-width="0.22" >1.0</text>
<line x1="276.00" y1="380.08" x2="279.00" y2="380.08" stroke="#444" stroke-width="1.2"/>
<text transform="translate(268.80,383.68) scale(1.0000,1)" font-size="10.000" text-anchor="end" font-weight="normal" font-style="normal" fill="#111" stroke="#111" stroke-width="0.22" >1.5</text>
<line x1="276.00" y1="358.64" x2="279.00" y2="358.64" stroke="#444" stroke-width="1.2"/>
<text transform="translate(268.80,362.24) scale(1.0000,1)" font-size="10.000" text-anchor="end" font-weight="normal" font-style="normal" fill="#111" stroke="#111" stroke-width="0.22" >2.0</text>
<line x1="276.00" y1="337.20" x2="279.00" y2="337.20" stroke="#444" stroke-width="1.2"/>
<text transform="translate(268.80,340.80) scale(1.0000,1)" font-size="10.000" text-anchor="end" font-weight="normal" font-style="normal" fill="#111" stroke="#111" stroke-width="0.22" >2.5</text>
<line x1="311.00" y1="444.40" x2="311.00" y2="447.40" stroke="#2a2a2a" stroke-width="1.2"/>
<line x1="343.00" y1="444.40" x2="343.00" y2="447.40" stroke="#2a2a2a" stroke-width="1.2"/>
<line x1="375.00" y1="444.40" x2="375.00" y2="447.40" stroke="#2a2a2a" stroke-width="1.2"/>
<line x1="407.00" y1="444.40" x2="407.00" y2="447.40" stroke="#2a2a2a" stroke-width="1.2"/>
<line x1="439.00" y1="444.40" x2="439.00" y2="447.40" stroke="#2a2a2a" stroke-width="1.2"/>
<text transform="translate(279.70,462.50) scale(1.0000,1)" font-size="10.000" text-anchor="middle" fill="#111" stroke="#111" stroke-width="0.22">10<tspan font-size="7.000" dy="-4.2">−6</tspan></text>
<text transform="translate(311.70,462.50) scale(1.0000,1)" font-size="10.000" text-anchor="middle" fill="#111" stroke="#111" stroke-width="0.22">10<tspan font-size="7.000" dy="-4.2">−5</tspan></text>
<text transform="translate(343.70,462.50) scale(1.0000,1)" font-size="10.000" text-anchor="middle" fill="#111" stroke="#111" stroke-width="0.22">10<tspan font-size="7.000" dy="-4.2">−4</tspan></text>
<text transform="translate(375.70,462.50) scale(1.0000,1)" font-size="10.000" text-anchor="middle" fill="#111" stroke="#111" stroke-width="0.22">10<tspan font-size="7.000" dy="-4.2">−3</tspan></text>
<text transform="translate(407.70,462.50) scale(1.0000,1)" font-size="10.000" text-anchor="middle" fill="#111" stroke="#111" stroke-width="0.22">10<tspan font-size="7.000" dy="-4.2">−2</tspan></text>
<text transform="translate(439.70,462.50) scale(1.0000,1)" font-size="10.000" text-anchor="middle" fill="#111" stroke="#111" stroke-width="0.22">10<tspan font-size="7.000" dy="-4.2">−1</tspan></text>
<text transform="translate(359.40,476.90) scale(1.0000,1)" font-size="10.000" text-anchor="middle" font-weight="normal" font-style="normal" fill="#111" stroke="#111" stroke-width="0.22" >Log [serum dilution]</text>
<text x="0" y="0" font-size="9.95" text-anchor="middle" fill="#111" stroke="#111" stroke-width="0.22" transform="translate(242.80,390.90) scale(1.05,1) rotate(-90)">Binding to O2 LPS (OD)</text>
<path d="M291.40,441.60 C294.62,441.60 304.25,441.60 310.67,441.60 C317.09,441.60 323.51,441.65 329.94,441.60 C336.36,441.55 342.78,441.43 349.20,441.30 C355.62,441.17 362.05,441.12 368.47,440.80 C374.89,440.48 381.31,440.23 387.73,439.40 C394.16,438.57 403.79,436.40 407.00,435.80" fill="none" stroke="#d81e74" stroke-width="1.7"/>
<rect x="289.20" y="439.40" width="4.4" height="4.4" fill="#ea1a7c"/>
<rect x="308.47" y="439.40" width="4.4" height="4.4" fill="#ea1a7c"/>
<rect x="327.74" y="439.40" width="4.4" height="4.4" fill="#ea1a7c"/>
<rect x="347.00" y="439.10" width="4.4" height="4.4" fill="#ea1a7c"/>
<rect x="366.27" y="438.60" width="4.4" height="4.4" fill="#ea1a7c"/>
<rect x="385.53" y="437.20" width="4.4" height="4.4" fill="#ea1a7c"/>
<rect x="404.80" y="433.60" width="4.4" height="4.4" fill="#ea1a7c"/>
<line x1="282.20" y1="342.80" x2="294.00" y2="342.80" stroke="#d81e74" stroke-width="1.3"/>
<rect x="285.70" y="340.40" width="4.8" height="4.8" fill="#ea1a7c"/>
<text transform="translate(297.40,346.40) scale(1.0000,1)" font-size="10.000" text-anchor="start" font-weight="normal" font-style="normal" fill="#111" stroke="#111" stroke-width="0.22" >WT (O1)</text>
<line x1="282.20" y1="352.90" x2="294.00" y2="352.90" stroke="#1a1ac0" stroke-width="1.3"/>
<path d="M288.10,349.98 L290.80,354.84 L285.40,354.84 Z" fill="#1414d8"/>
<text transform="translate(297.40,356.50) scale(1.0000,1)" font-size="10.000" text-anchor="start" font-weight="normal" font-style="normal" fill="#111" stroke="#111" stroke-width="0.22" >ΔwbbYZ (O2)</text>
<text transform="translate(0.10,500.90) scale(1.0000,1)" font-size="15.000" text-anchor="start" font-weight="bold" font-style="normal" fill="#000" stroke="#000" stroke-width="0" >d</text>
<line x1="43.20" y1="513.40" x2="43.20" y2="623.50" stroke="#444" stroke-width="1.3"/>
<line x1="41.80" y1="621.10" x2="204.20" y2="621.10" stroke="#2a2a2a" stroke-width="1.3"/>
<line x1="40.20" y1="621.10" x2="43.20" y2="621.10" stroke="#444" stroke-width="1.2"/>
<text transform="translate(32.50,624.70) scale(1.0000,1)" font-size="10.000" text-anchor="end" font-weight="normal" font-style="normal" fill="#111" stroke="#111" stroke-width="0.22" >0</text>
<line x1="40.20" y1="594.17" x2="43.20" y2="594.17" stroke="#444" stroke-width="1.2"/>
<text transform="translate(32.50,597.77) scale(1.0000,1)" font-size="10.000" text-anchor="end" font-weight="normal" font-style="normal" fill="#111" stroke="#111" stroke-width="0.22" >1</text>
<line x1="40.20" y1="567.25" x2="43.20" y2="567.25" stroke="#444" stroke-width="1.2"/>
<text transform="translate(32.50,570.85) scale(1.0000,1)" font-size="10.000" text-anchor="end" font-weight="normal" font-style="normal" fill="#111" stroke="#111" stroke-width="0.22" >2</text>
<line x1="40.20" y1="540.33" x2="43.20" y2="540.33" stroke="#444" stroke-width="1.2"/>
<text transform="translate(32.50,543.93) scale(1.0000,1)" font-size="10.000" text-anchor="end" font-weight="normal" font-style="normal" fill="#111" stroke="#111" stroke-width="0.22" >3</text>
<line x1="40.20" y1="513.40" x2="43.20" y2="513.40" stroke="#444" stroke-width="1.2"/>
<text transform="translate(32.50,517.00) scale(1.0000,1)" font-size="10.000" text-anchor="end" font-weight="normal" font-style="normal" fill="#111" stroke="#111" stroke-width="0.22" >4</text>
<line x1="75.00" y1="621.10" x2="75.00" y2="624.10" stroke="#2a2a2a" stroke-width="1.2"/>
<line x1="107.30" y1="621.10" x2="107.30" y2="624.10" stroke="#2a2a2a" stroke-width="1.2"/>
<line x1="139.60" y1="621.10" x2="139.60" y2="624.10" stroke="#2a2a2a" stroke-width="1.2"/>
<line x1="171.90" y1="621.10" x2="171.90" y2="624.10" stroke="#2a2a2a" stroke-width="1.2"/>
<line x1="204.20" y1="621.10" x2="204.20" y2="624.10" stroke="#2a2a2a" stroke-width="1.2"/>
<text transform="translate(44.40,639.40) scale(1.0000,1)" font-size="10.000" text-anchor="middle" fill="#111" stroke="#111" stroke-width="0.22">10<tspan font-size="7.000" dy="-4.2">−6</tspan></text>
<text transform="translate(76.70,639.40) scale(1.0000,1)" font-size="10.000" text-anchor="middle" fill="#111" stroke="#111" stroke-width="0.22">10<tspan font-size="7.000" dy="-4.2">−5</tspan></text>
<text transform="translate(109.00,639.40) scale(1.0000,1)" font-size="10.000" text-anchor="middle" fill="#111" stroke="#111" stroke-width="0.22">10<tspan font-size="7.000" dy="-4.2">−4</tspan></text>
<text transform="translate(141.30,639.40) scale(1.0000,1)" font-size="10.000" text-anchor="middle" fill="#111" stroke="#111" stroke-width="0.22">10<tspan font-size="7.000" dy="-4.2">−3</tspan></text>
<text transform="translate(173.60,639.40) scale(1.0000,1)" font-size="10.000" text-anchor="middle" fill="#111" stroke="#111" stroke-width="0.22">10<tspan font-size="7.000" dy="-4.2">−2</tspan></text>
<text transform="translate(205.90,639.40) scale(1.0000,1)" font-size="10.000" text-anchor="middle" fill="#111" stroke="#111" stroke-width="0.22">10<tspan font-size="7.000" dy="-4.2">−1</tspan></text>
<text transform="translate(124.40,654.80) scale(1.0000,1)" font-size="10.000" text-anchor="middle" font-weight="normal" font-style="normal" fill="#111" stroke="#111" stroke-width="0.22" >Log [serum dilution]</text>
<text x="0" y="0" font-size="9.95" text-anchor="middle" fill="#111" stroke="#111" stroke-width="0.22" transform="translate(17.40,567.20) scale(1.05,1) rotate(-90)">Binding to KP OmpA (OD)</text>
<path d="M55.80,618.74 L57.27,618.73 L58.74,618.72 L60.21,618.70 L61.68,618.69 L63.15,618.67 L64.62,618.65 L66.09,618.63 L67.56,618.61 L69.03,618.58 L70.50,618.56 L71.97,618.52 L73.44,618.49 L74.91,618.45 L76.37,618.41 L77.84,618.36 L79.31,618.31 L80.78,618.25 L82.25,618.18 L83.72,618.11 L85.19,618.03 L86.66,617.94 L88.13,617.85 L89.60,617.74 L91.07,617.62 L92.54,617.48 L94.01,617.34 L95.48,617.17 L96.95,616.99 L98.42,616.79 L99.89,616.57 L101.36,616.32 L102.83,616.05 L104.30,615.75 L105.77,615.42 L107.24,615.06 L108.71,614.66 L110.18,614.22 L111.65,613.73 L113.12,613.19 L114.58,612.60 L116.05,611.96 L117.52,611.25 L118.99,610.47 L120.46,609.62 L121.93,608.69 L123.40,607.68 L124.87,606.58 L126.34,605.38 L127.81,604.09 L129.28,602.69 L130.75,601.18 L132.22,599.55 L133.69,597.81 L135.16,595.95 L136.63,593.97 L138.10,591.86 L139.57,589.64 L141.04,587.29 L142.51,584.83 L143.98,582.27 L145.45,579.60 L146.92,576.83 L148.39,573.99 L149.86,571.08 L151.33,568.12 L152.79,565.11 L154.26,562.08 L155.73,559.05 L157.20,556.02 L158.67,553.02 L160.14,550.06 L161.61,547.16 L163.08,544.33 L164.55,541.58 L166.02,538.93 L167.49,536.37 L168.96,533.93 L170.43,531.60 L171.90,529.39" fill="none" stroke="#1a1ac0" stroke-width="1.2"/>
<path d="M55.80,618.08 L57.27,618.08 L58.74,618.07 L60.21,618.07 L61.68,618.06 L63.15,618.06 L64.62,618.05 L66.09,618.04 L67.56,618.03 L69.03,618.02 L70.50,618.01 L71.97,617.99 L73.44,617.98 L74.91,617.96 L76.37,617.94 L77.84,617.91 L79.31,617.88 L80.78,617.85 L82.25,617.81 L83.72,617.76 L85.19,617.71 L86.66,617.65 L88.13,617.59 L89.60,617.51 L91.07,617.42 L92.54,617.32 L94.01,617.20 L95.48,617.07 L96.95,616.91 L98.42,616.74 L99.89,616.53 L101.36,616.30 L102.83,616.03 L104.30,615.73 L105.77,615.38 L107.24,614.98 L108.71,614.53 L110.18,614.02 L111.65,613.43 L113.12,612.76 L114.58,612.01 L116.05,611.15 L117.52,610.19 L118.99,609.10 L120.46,607.89 L121.93,606.53 L123.40,605.01 L124.87,603.34 L126.34,601.49 L127.81,599.45 L129.28,597.24 L130.75,594.84 L132.22,592.25 L133.69,589.48 L135.16,586.55 L136.63,583.46 L138.10,580.25 L139.57,576.92 L141.04,573.52 L142.51,570.08 L143.98,566.62 L145.45,563.18 L146.92,559.80 L148.39,556.50 L149.86,553.32 L151.33,550.27 L152.79,547.38 L154.26,544.67 L155.73,542.13 L157.20,539.78 L158.67,537.61 L160.14,535.63 L161.61,533.83 L163.08,532.19 L164.55,530.72 L166.02,529.40 L167.49,528.22 L168.96,527.17 L170.43,526.24 L171.90,525.41" fill="none" stroke="#d81e74" stroke-width="1.2"/>
<path d="M55.80,616.32 L58.10,620.46 L53.50,620.46 Z" fill="#1414d8"/>
<path d="M74.90,616.32 L77.20,620.46 L72.60,620.46 Z" fill="#1414d8"/>
<path d="M94.40,614.22 L96.70,618.36 L92.10,618.36 Z" fill="#1414d8"/>
<path d="M114.10,610.52 L116.40,614.66 L111.80,614.66 Z" fill="#1414d8"/>
<path d="M132.70,596.52 L135.00,600.66 L130.40,600.66 Z" fill="#1414d8"/>
<path d="M152.50,563.22 L154.80,567.36 L150.20,567.36 Z" fill="#1414d8"/>
<path d="M171.90,526.92 L174.20,531.06 L169.60,531.06 Z" fill="#1414d8"/>
<rect x="53.60" y="616.60" width="4.4" height="4.4" fill="#ea1a7c"/>
<rect x="72.70" y="616.60" width="4.4" height="4.4" fill="#ea1a7c"/>
<rect x="92.20" y="614.50" width="4.4" height="4.4" fill="#ea1a7c"/>
<rect x="111.90" y="608.20" width="4.4" height="4.4" fill="#ea1a7c"/>
<rect x="130.50" y="590.30" width="4.4" height="4.4" fill="#ea1a7c"/>
<rect x="150.30" y="545.10" width="4.4" height="4.4" fill="#ea1a7c"/>
<rect x="169.70" y="523.50" width="4.4" height="4.4" fill="#ea1a7c"/>
<line x1="45.50" y1="519.70" x2="57.00" y2="519.70" stroke="#d81e74" stroke-width="1.3"/>
<rect x="48.85" y="517.30" width="4.8" height="4.8" fill="#ea1a7c"/>
<text transform="translate(60.60,523.30) scale(1.0000,1)" font-size="10.000" text-anchor="start" font-weight="normal" font-style="normal" fill="#111" stroke="#111" stroke-width="0.22" >WT (O1)</text>
<line x1="45.50" y1="532.40" x2="57.00" y2="532.40" stroke="#1a1ac0" stroke-width="1.3"/>
<path d="M51.25,529.48 L53.95,534.34 L48.55,534.34 Z" fill="#1414d8"/>
<text transform="translate(60.60,536.00) scale(1.0000,1)" font-size="10.000" text-anchor="start" font-weight="normal" font-style="normal" fill="#111" stroke="#111" stroke-width="0.22" >ΔwbbYZ (O2)</text>
<line x1="279.40" y1="516.10" x2="279.40" y2="625.00" stroke="#444" stroke-width="1.3"/>
<line x1="278.00" y1="623.20" x2="439.70" y2="623.20" stroke="#2a2a2a" stroke-width="1.3"/>
<line x1="276.40" y1="623.20" x2="279.40" y2="623.20" stroke="#444" stroke-width="1.2"/>
<text transform="translate(269.70,626.80) scale(1.0000,1)" font-size="10.000" text-anchor="end" font-weight="normal" font-style="normal" fill="#111" stroke="#111" stroke-width="0.22" >0.0</text>
<line x1="276.40" y1="601.78" x2="279.40" y2="601.78" stroke="#444" stroke-width="1.2"/>
<text transform="translate(269.70,605.38) scale(1.0000,1)" font-size="10.000" text-anchor="end" font-weight="normal" font-style="normal" fill="#111" stroke="#111" stroke-width="0.22" >0.5</text>
<line x1="276.40" y1="580.36" x2="279.40" y2="580.36" stroke="#444" stroke-width="1.2"/>
<text transform="translate(269.70,583.96) scale(1.0000,1)" font-size="10.000" text-anchor="end" font-weight="normal" font-style="normal" fill="#111" stroke="#111" stroke-width="0.22" >1.0</text>
<line x1="276.40" y1="558.94" x2="279.40" y2="558.94" stroke="#444" stroke-width="1.2"/>
<text transform="translate(269.70,562.54) scale(1.0000,1)" font-size="10.000" text-anchor="end" font-weight="normal" font-style="normal" fill="#111" stroke="#111" stroke-width="0.22" >1.5</text>
<line x1="276.40" y1="537.52" x2="279.40" y2="537.52" stroke="#444" stroke-width="1.2"/>
<text transform="translate(269.70,541.12) scale(1.0000,1)" font-size="10.000" text-anchor="end" font-weight="normal" font-style="normal" fill="#111" stroke="#111" stroke-width="0.22" >2.0</text>
<line x1="276.40" y1="516.10" x2="279.40" y2="516.10" stroke="#444" stroke-width="1.2"/>
<text transform="translate(269.70,519.70) scale(1.0000,1)" font-size="10.000" text-anchor="end" font-weight="normal" font-style="normal" fill="#111" stroke="#111" stroke-width="0.22" >2.5</text>
<line x1="311.46" y1="623.20" x2="311.46" y2="626.20" stroke="#2a2a2a" stroke-width="1.2"/>
<line x1="343.52" y1="623.20" x2="343.52" y2="626.20" stroke="#2a2a2a" stroke-width="1.2"/>
<line x1="375.58" y1="623.20" x2="375.58" y2="626.20" stroke="#2a2a2a" stroke-width="1.2"/>
<line x1="407.64" y1="623.20" x2="407.64" y2="626.20" stroke="#2a2a2a" stroke-width="1.2"/>
<line x1="439.70" y1="623.20" x2="439.70" y2="626.20" stroke="#2a2a2a" stroke-width="1.2"/>
<text transform="translate(281.10,640.40) scale(1.0000,1)" font-size="10.000" text-anchor="middle" fill="#111" stroke="#111" stroke-width="0.22">10<tspan font-size="7.000" dy="-4.2">−6</tspan></text>
<text transform="translate(313.16,640.40) scale(1.0000,1)" font-size="10.000" text-anchor="middle" fill="#111" stroke="#111" stroke-width="0.22">10<tspan font-size="7.000" dy="-4.2">−5</tspan></text>
<text transform="translate(345.22,640.40) scale(1.0000,1)" font-size="10.000" text-anchor="middle" fill="#111" stroke="#111" stroke-width="0.22">10<tspan font-size="7.000" dy="-4.2">−4</tspan></text>
<text transform="translate(377.28,640.40) scale(1.0000,1)" font-size="10.000" text-anchor="middle" fill="#111" stroke="#111" stroke-width="0.22">10<tspan font-size="7.000" dy="-4.2">−3</tspan></text>
<text transform="translate(409.34,640.40) scale(1.0000,1)" font-size="10.000" text-anchor="middle" fill="#111" stroke="#111" stroke-width="0.22">10<tspan font-size="7.000" dy="-4.2">−2</tspan></text>
<text transform="translate(441.40,640.40) scale(1.0000,1)" font-size="10.000" text-anchor="middle" fill="#111" stroke="#111" stroke-width="0.22">10<tspan font-size="7.000" dy="-4.2">−1</tspan></text>
<text transform="translate(361.20,656.60) scale(1.0000,1)" font-size="10.000" text-anchor="middle" font-weight="normal" font-style="normal" fill="#111" stroke="#111" stroke-width="0.22" >Log [serum dilution]</text>
<text x="0" y="0" font-size="9.9" text-anchor="middle" fill="#111" stroke="#111" stroke-width="0.22" transform="translate(243.00,569.00) scale(1.05,1) rotate(-90)">Binding to KP lysate (OD)</text>
<path d="M301.00,619.50 C304.28,619.38 314.22,619.32 320.70,618.80 C327.18,618.28 333.47,617.58 339.90,616.40 C346.33,615.22 352.87,614.37 359.30,611.70 C365.73,609.03 372.02,606.53 378.50,600.40 C384.98,594.27 391.75,587.38 398.20,574.90 C404.65,562.42 414.03,533.73 417.20,525.50" fill="none" stroke="#1a1ac0" stroke-width="1.2"/>
<path d="M301.00,619.50 C304.28,619.38 314.22,619.32 320.70,618.80 C327.18,618.28 333.47,617.58 339.90,616.40 C346.33,615.22 352.87,614.15 359.30,611.70 C365.73,609.25 372.02,606.83 378.50,601.70 C384.98,596.57 391.75,589.45 398.20,580.90 C404.65,572.35 414.03,555.48 417.20,550.40" fill="none" stroke="#d81e74" stroke-width="1.2"/>
<path d="M301.00,617.02 L303.30,621.16 L298.70,621.16 Z" fill="#1414d8"/>
<path d="M320.70,616.32 L323.00,620.46 L318.40,620.46 Z" fill="#1414d8"/>
<path d="M339.90,613.92 L342.20,618.06 L337.60,618.06 Z" fill="#1414d8"/>
<path d="M359.30,609.22 L361.60,613.36 L357.00,613.36 Z" fill="#1414d8"/>
<path d="M378.50,597.92 L380.80,602.06 L376.20,602.06 Z" fill="#1414d8"/>
<path d="M398.20,572.42 L400.50,576.56 L395.90,576.56 Z" fill="#1414d8"/>
<path d="M417.20,523.02 L419.50,527.16 L414.90,527.16 Z" fill="#1414d8"/>
<rect x="298.80" y="617.30" width="4.4" height="4.4" fill="#ea1a7c"/>
<rect x="318.50" y="616.60" width="4.4" height="4.4" fill="#ea1a7c"/>
<rect x="337.70" y="614.20" width="4.4" height="4.4" fill="#ea1a7c"/>
<rect x="357.10" y="609.50" width="4.4" height="4.4" fill="#ea1a7c"/>
<rect x="376.30" y="599.50" width="4.4" height="4.4" fill="#ea1a7c"/>
<rect x="396.00" y="578.70" width="4.4" height="4.4" fill="#ea1a7c"/>
<rect x="415.00" y="548.20" width="4.4" height="4.4" fill="#ea1a7c"/>
<line x1="285.50" y1="518.00" x2="296.00" y2="518.00" stroke="#d81e74" stroke-width="1.3"/>
<rect x="288.35" y="515.60" width="4.8" height="4.8" fill="#ea1a7c"/>
<text transform="translate(300.00,521.60) scale(1.0000,1)" font-size="10.000" text-anchor="start" font-weight="normal" font-style="normal" fill="#111" stroke="#111" stroke-width="0.22" >WT (O1)</text>
<line x1="285.50" y1="528.90" x2="296.00" y2="528.90" stroke="#1a1ac0" stroke-width="1.3"/>
<path d="M290.75,525.98 L293.45,530.84 L288.05,530.84 Z" fill="#1414d8"/>
<text transform="translate(300.00,532.50) scale(1.0000,1)" font-size="10.000" text-anchor="start" font-weight="normal" font-style="normal" fill="#111" stroke="#111" stroke-width="0.22" >ΔwbbYZ (O2)</text>
<text transform="translate(469.60,505.80) scale(1.0000,1)" font-size="14.500" text-anchor="start" font-weight="bold" font-style="normal" fill="#000" stroke="#000" stroke-width="0" >e</text>
<line x1="517.00" y1="516.50" x2="517.00" y2="625.50" stroke="#444" stroke-width="1.3"/>
<line x1="515.50" y1="623.10" x2="678.20" y2="623.10" stroke="#2a2a2a" stroke-width="1.3"/>
<line x1="514.00" y1="623.10" x2="517.00" y2="623.10" stroke="#444" stroke-width="1.2"/>
<text transform="translate(510.80,626.70) scale(1.0000,1)" font-size="9.500" text-anchor="end" font-weight="normal" font-style="normal" fill="#111" stroke="#111" stroke-width="0.22" >0</text>
<line x1="514.00" y1="587.57" x2="517.00" y2="587.57" stroke="#444" stroke-width="1.2"/>
<text transform="translate(510.80,591.17) scale(1.0000,1)" font-size="9.500" text-anchor="end" font-weight="normal" font-style="normal" fill="#111" stroke="#111" stroke-width="0.22" >500</text>
<line x1="514.00" y1="552.03" x2="517.00" y2="552.03" stroke="#444" stroke-width="1.2"/>
<text transform="translate(510.80,555.63) scale(1.0000,1)" font-size="9.500" text-anchor="end" font-weight="normal" font-style="normal" fill="#111" stroke="#111" stroke-width="0.22" >1000</text>
<line x1="514.00" y1="516.50" x2="517.00" y2="516.50" stroke="#444" stroke-width="1.2"/>
<text transform="translate(510.80,520.10) scale(1.0000,1)" font-size="9.500" text-anchor="end" font-weight="normal" font-style="normal" fill="#111" stroke="#111" stroke-width="0.22" >1500</text>
<line x1="543.95" y1="623.10" x2="543.95" y2="626.10" stroke="#2a2a2a" stroke-width="1.2"/>
<line x1="570.80" y1="623.10" x2="570.80" y2="626.10" stroke="#2a2a2a" stroke-width="1.2"/>
<line x1="597.65" y1="623.10" x2="597.65" y2="626.10" stroke="#2a2a2a" stroke-width="1.2"/>
<line x1="624.50" y1="623.10" x2="624.50" y2="626.10" stroke="#2a2a2a" stroke-width="1.2"/>
<line x1="651.35" y1="623.10" x2="651.35" y2="626.10" stroke="#2a2a2a" stroke-width="1.2"/>
<line x1="678.20" y1="623.10" x2="678.20" y2="626.10" stroke="#2a2a2a" stroke-width="1.2"/>
<text transform="translate(517.80,641.50) scale(1.0000,1)" font-size="10.000" text-anchor="middle" fill="#111" stroke="#111" stroke-width="0.22">10<tspan font-size="7.000" dy="-4.2">−3</tspan></text>
<text transform="translate(544.65,641.50) scale(1.0000,1)" font-size="10.000" text-anchor="middle" fill="#111" stroke="#111" stroke-width="0.22">10<tspan font-size="7.000" dy="-4.2">−2</tspan></text>
<text transform="translate(571.50,641.50) scale(1.0000,1)" font-size="10.000" text-anchor="middle" fill="#111" stroke="#111" stroke-width="0.22">10<tspan font-size="7.000" dy="-4.2">−1</tspan></text>
<text transform="translate(598.35,641.50) scale(1.0000,1)" font-size="10.000" text-anchor="middle" fill="#111" stroke="#111" stroke-width="0.22">10<tspan font-size="7.000" dy="-4.2">0</tspan></text>
<text transform="translate(625.20,641.50) scale(1.0000,1)" font-size="10.000" text-anchor="middle" fill="#111" stroke="#111" stroke-width="0.22">10<tspan font-size="7.000" dy="-4.2">1</tspan></text>
<text transform="translate(652.05,641.50) scale(1.0000,1)" font-size="10.000" text-anchor="middle" fill="#111" stroke="#111" stroke-width="0.22">10<tspan font-size="7.000" dy="-4.2">2</tspan></text>
<text transform="translate(678.90,641.50) scale(1.0000,1)" font-size="10.000" text-anchor="middle" fill="#111" stroke="#111" stroke-width="0.22">10<tspan font-size="7.000" dy="-4.2">3</tspan></text>
<text transform="translate(597.60,658.20) scale(1.0000,1)" font-size="10.000" text-anchor="middle" font-weight="normal" font-style="normal" fill="#111" stroke="#111" stroke-width="0.22" >(LPS) (ng/ml)</text>
<text x="0" y="0" font-size="9.9" text-anchor="middle" fill="#111" stroke="#111" stroke-width="0.22" transform="translate(478.00,570.00) scale(1.05,1) rotate(-90)">Macrophage activation (%)</text>
<polyline points="524.90,621.40 543.90,619.20 552.00,615.90 562.60,612.60 574.60,606.90 587.10,594.40 599.80,580.20 612.50,559.00 625.60,545.80 638.10,539.30 651.20,540.80" fill="none" stroke="#1a1ac0" stroke-width="1.5" stroke-linejoin="round"/>
<polyline points="543.90,621.40 552.00,619.60 562.60,615.20 574.60,609.80 587.10,602.10 599.80,585.00 612.50,563.80 625.60,551.70 638.10,546.90 651.20,540.40" fill="none" stroke="#d81e74" stroke-width="1.1" stroke-linejoin="round"/>
<line x1="587.10" y1="591.20" x2="587.10" y2="596.60" stroke="#1414d8" stroke-width="1.2"/>
<line x1="585.30" y1="591.20" x2="588.90" y2="591.20" stroke="#1414d8" stroke-width="1.2"/>
<line x1="585.30" y1="596.60" x2="588.90" y2="596.60" stroke="#1414d8" stroke-width="1.2"/>
<line x1="625.60" y1="541.90" x2="625.60" y2="548.50" stroke="#1414d8" stroke-width="1.2"/>
<line x1="623.80" y1="541.90" x2="627.40" y2="541.90" stroke="#1414d8" stroke-width="1.2"/>
<line x1="623.80" y1="548.50" x2="627.40" y2="548.50" stroke="#1414d8" stroke-width="1.2"/>
<line x1="638.10" y1="542.00" x2="638.10" y2="550.00" stroke="#ea1a7c" stroke-width="1.2"/>
<line x1="636.30" y1="542.00" x2="639.90" y2="542.00" stroke="#ea1a7c" stroke-width="1.2"/>
<line x1="636.30" y1="550.00" x2="639.90" y2="550.00" stroke="#ea1a7c" stroke-width="1.2"/>
<line x1="651.20" y1="537.60" x2="651.20" y2="543.20" stroke="#ea1a7c" stroke-width="1.2"/>
<line x1="649.40" y1="537.60" x2="653.00" y2="537.60" stroke="#ea1a7c" stroke-width="1.2"/>
<line x1="649.40" y1="543.20" x2="653.00" y2="543.20" stroke="#ea1a7c" stroke-width="1.2"/>
<path d="M524.90,618.81 L527.30,623.13 L522.50,623.13 Z" fill="#1414d8"/>
<path d="M543.90,616.61 L546.30,620.93 L541.50,620.93 Z" fill="#1414d8"/>
<path d="M552.00,613.31 L554.40,617.63 L549.60,617.63 Z" fill="#1414d8"/>
<path d="M562.60,610.01 L565.00,614.33 L560.20,614.33 Z" fill="#1414d8"/>
<path d="M574.60,604.31 L577.00,608.63 L572.20,608.63 Z" fill="#1414d8"/>
<path d="M587.10,591.81 L589.50,596.13 L584.70,596.13 Z" fill="#1414d8"/>
<path d="M599.80,577.61 L602.20,581.93 L597.40,581.93 Z" fill="#1414d8"/>
<path d="M612.50,556.41 L614.90,560.73 L610.10,560.73 Z" fill="#1414d8"/>
<path d="M625.60,543.21 L628.00,547.53 L623.20,547.53 Z" fill="#1414d8"/>
<path d="M638.10,536.71 L640.50,541.03 L635.70,541.03 Z" fill="#1414d8"/>
<path d="M651.20,538.21 L653.60,542.53 L648.80,542.53 Z" fill="#1414d8"/>
<rect x="541.70" y="619.20" width="4.4" height="4.4" fill="#ea1a7c"/>
<rect x="549.80" y="617.40" width="4.4" height="4.4" fill="#ea1a7c"/>
<rect x="560.40" y="613.00" width="4.4" height="4.4" fill="#ea1a7c"/>
<rect x="572.40" y="607.60" width="4.4" height="4.4" fill="#ea1a7c"/>
<rect x="584.90" y="599.90" width="4.4" height="4.4" fill="#ea1a7c"/>
<rect x="597.60" y="582.80" width="4.4" height="4.4" fill="#ea1a7c"/>
<rect x="610.30" y="561.60" width="4.4" height="4.4" fill="#ea1a7c"/>
<rect x="623.40" y="549.50" width="4.4" height="4.4" fill="#ea1a7c"/>
<rect x="635.90" y="544.70" width="4.4" height="4.4" fill="#ea1a7c"/>
<rect x="649.00" y="538.20" width="4.4" height="4.4" fill="#ea1a7c"/>
<line x1="522.20" y1="518.00" x2="532.70" y2="518.00" stroke="#d81e74" stroke-width="1.3"/>
<rect x="525.05" y="515.60" width="4.8" height="4.8" fill="#ea1a7c"/>
<text transform="translate(537.10,521.60) scale(1.0000,1)" font-size="10.100" text-anchor="start" font-weight="normal" font-style="normal" fill="#111" stroke="#111" stroke-width="0.22" >O1 LPS</text>
<line x1="522.20" y1="530.80" x2="532.70" y2="530.80" stroke="#1a1ac0" stroke-width="1.3"/>
<path d="M527.45,527.88 L530.15,532.74 L524.75,532.74 Z" fill="#1414d8"/>
<text transform="translate(537.10,534.40) scale(1.0000,1)" font-size="10.100" text-anchor="start" font-weight="normal" font-style="normal" fill="#111" stroke="#111" stroke-width="0.22" >O2 LPS</text>
<text transform="translate(39.50,679.60) scale(1.0000,1)" font-size="15.000" text-anchor="start" font-weight="bold" font-style="normal" fill="#000" stroke="#000" stroke-width="0" >f</text>
<text transform="translate(64.70,695.20) scale(1.0000,1)" font-size="10.000" text-anchor="start" font-weight="normal" font-style="normal" fill="#111" stroke="#111" stroke-width="0.22" >Core</text>
<text transform="translate(64.70,731.40) scale(1.0000,1)" font-size="10.000" text-anchor="start" font-weight="normal" font-style="normal" fill="#111" stroke="#111" stroke-width="0.22" >Core</text>
<text transform="translate(41.00,709.50) scale(1.0000,1)" font-size="10.000" text-anchor="start" font-weight="normal" font-style="normal" fill="#111" stroke="#111" stroke-width="0.22" >O1</text>
<text transform="translate(41.00,744.10) scale(1.0000,1)" font-size="10.000" text-anchor="start" font-weight="normal" font-style="normal" fill="#111" stroke="#111" stroke-width="0.22" >O2</text>
<rect x="60.2" y="700.2" width="32.9" height="12.3" rx="2" fill="#7f7f7f"/>
<rect x="60.2" y="736.1" width="31.6" height="11.5" rx="2" fill="#7f7f7f"/>
<rect x="95.8" y="700.0" width="33.3" height="12.6" fill="#000"/>
<rect x="132.0" y="700.0" width="32.7" height="12.6" fill="#000"/>
<rect x="95.8" y="735.8" width="33.3" height="12.0" fill="#000"/>
<rect x="132.0" y="735.8" width="32.7" height="12.0" fill="#000"/>
<defs><pattern id="hatch" patternUnits="userSpaceOnUse" width="1.8" height="1.8" patternTransform="rotate(45)"><rect width="1.8" height="1.8" fill="#ececec"/><line x1="0.45" y1="0" x2="0.45" y2="1.8" stroke="#6a6a6a" stroke-width="0.9"/></pattern></defs>
<rect x="173.4" y="700.0" width="33.0" height="12.6" fill="url(#hatch)"/>
<rect x="208.9" y="700.0" width="33.1" height="12.6" fill="url(#hatch)"/>
<path d="M96.90,691.60 L94.30,691.60 L94.30,719.60 L96.90,719.60" fill="none" stroke="#555" stroke-width="0.9"/>
<path d="M162.90,691.60 L165.50,691.60 L165.50,719.60 L162.90,719.60" fill="none" stroke="#555" stroke-width="0.9"/>
<path d="M174.80,691.60 L172.20,691.60 L172.20,719.60 L174.80,719.60" fill="none" stroke="#555" stroke-width="0.9"/>
<path d="M240.70,691.60 L243.30,691.60 L243.30,719.60 L240.70,719.60" fill="none" stroke="#555" stroke-width="0.9"/>
<path d="M96.60,725.30 L94.00,725.30 L94.00,753.40 L96.60,753.40" fill="none" stroke="#888" stroke-width="0.9"/>
<path d="M162.90,725.30 L165.50,725.30 L165.50,753.40 L162.90,753.40" fill="none" stroke="#555" stroke-width="0.9"/>
<text transform="translate(104.60,693.60) scale(1.0000,1)" font-size="10.000" text-anchor="start" font-weight="normal" font-style="normal" fill="#111" stroke="#111" stroke-width="0.22" >D-galactan I</text>
<text transform="translate(104.20,731.40) scale(1.0000,1)" font-size="10.000" text-anchor="start" font-weight="normal" font-style="normal" fill="#111" stroke="#111" stroke-width="0.22" >D-galactan I</text>
<text transform="translate(179.70,694.00) scale(1.0000,1)" font-size="10.000" text-anchor="start" font-weight="normal" font-style="normal" fill="#111" stroke="#111" stroke-width="0.22" >D-galactan II</text>
<text transform="translate(190.50,722.30) scale(1.0000,1)" font-size="10.100" text-anchor="start" font-weight="normal" font-style="italic" fill="#111" stroke="#111" stroke-width="0.22" >wbbYZ</text>
<text transform="translate(166.50,718.20) scale(1.0000,1)" font-size="10.000" text-anchor="start" font-weight="normal" font-style="italic" fill="#111" stroke="#111" stroke-width="0.22" >n</text>
<text transform="translate(166.50,751.20) scale(1.0000,1)" font-size="10.000" text-anchor="start" font-weight="normal" font-style="italic" fill="#111" stroke="#111" stroke-width="0.22" >n</text>
<text transform="translate(245.40,718.90) scale(1.0000,1)" font-size="10.000" text-anchor="start" font-weight="normal" font-style="italic" fill="#111" stroke="#111" stroke-width="0.22" >n</text>
<text transform="translate(120.30,768.60) scale(1.0000,1)" font-size="10.000" text-anchor="start" font-weight="normal" font-style="normal" fill="#111" stroke="#111" stroke-width="0.22" >LPS O-antigen repeats</text>
<text transform="translate(317.00,679.60) scale(1.0000,1)" font-size="15.000" text-anchor="start" font-weight="bold" font-style="normal" fill="#000" stroke="#000" stroke-width="0" >g</text>
<text transform="translate(363.40,683.20) scale(1.0000,1)" font-size="10.000" text-anchor="start" font-weight="normal" font-style="normal" fill="#111" stroke="#111" stroke-width="0.22" >O1</text>
<text transform="translate(382.10,683.20) scale(1.0000,1)" font-size="10.000" text-anchor="start" font-weight="normal" font-style="normal" fill="#111" stroke="#111" stroke-width="0.22" >O2</text>
<text transform="translate(341.70,703.70) scale(1.0000,1)" font-size="10.000" text-anchor="end" font-weight="normal" font-style="normal" fill="#111" stroke="#111" stroke-width="0.22" >180</text>
<text transform="translate(341.70,725.80) scale(1.0000,1)" font-size="10.000" text-anchor="end" font-weight="normal" font-style="normal" fill="#111" stroke="#111" stroke-width="0.22" >64</text>
<text transform="translate(341.70,760.20) scale(1.0000,1)" font-size="10.000" text-anchor="end" font-weight="normal" font-style="normal" fill="#111" stroke="#111" stroke-width="0.22" >19</text>
<text transform="translate(341.70,792.20) scale(1.0000,1)" font-size="10.000" text-anchor="end" font-weight="normal" font-style="normal" fill="#111" stroke="#111" stroke-width="0.22" >6</text>
<defs><filter id="b1" x="-50%" y="-50%" width="200%" height="200%"><feGaussianBlur stdDeviation="1.2"/></filter><filter id="b2" x="-50%" y="-50%" width="200%" height="200%"><feGaussianBlur stdDeviation="2.5"/></filter><filter id="b3" x="-50%" y="-50%" width="200%" height="200%"><feGaussianBlur stdDeviation="0.7"/></filter></defs>
<defs><linearGradient id="o1g" x1="0" y1="0" x2="0" y2="1"><stop offset="0" stop-color="#2a2a2a" stop-opacity="0.95"/><stop offset="0.4" stop-color="#2a2a2a" stop-opacity="0.92"/><stop offset="0.7" stop-color="#4a4a4a" stop-opacity="0.6"/><stop offset="1" stop-color="#888" stop-opacity="0.15"/></linearGradient><linearGradient id="o2g" x1="0" y1="0" x2="0" y2="1"><stop offset="0" stop-color="#777" stop-opacity="0.0"/><stop offset="0.3" stop-color="#777" stop-opacity="0.75"/><stop offset="0.65" stop-color="#777" stop-opacity="0.7"/><stop offset="1" stop-color="#999" stop-opacity="0.0"/></linearGradient></defs>
<rect x="345.2" y="686.8" width="52.4" height="111.6" fill="#e5e5e5"/>
<rect x="362" y="690" width="16" height="108" fill="#ebebeb" filter="url(#b2)"/>
<rect x="381" y="690" width="15" height="108" fill="#e9e9e9" filter="url(#b2)"/>
<ellipse cx="353.4" cy="693.7" rx="4.6" ry="1.3" fill="#c4c4c4" filter="url(#b3)"/>
<ellipse cx="353.4" cy="701.7" rx="4.6" ry="1.3" fill="#a8a8a8" filter="url(#b3)"/>
<ellipse cx="353.4" cy="710.6" rx="4.6" ry="1.3" fill="#c6c6c6" filter="url(#b3)"/>
<ellipse cx="353.4" cy="729.7" rx="4.6" ry="1.3" fill="#b4b4b4" filter="url(#b3)"/>
<ellipse cx="353.4" cy="741.2" rx="4.6" ry="1.3" fill="#d0d0d0" filter="url(#b3)"/>
<ellipse cx="353.4" cy="757.4" rx="4.6" ry="1.3" fill="#c4c4c4" filter="url(#b3)"/>
<ellipse cx="353.4" cy="764.9" rx="4.6" ry="1.3" fill="#b8b8b8" filter="url(#b3)"/>
<ellipse cx="353.4" cy="774.6" rx="4.6" ry="1.3" fill="#cccccc" filter="url(#b3)"/>
<ellipse cx="353.8" cy="721.0" rx="3.6" ry="2.2" fill="#000" filter="url(#b3)"/>
<ellipse cx="353.2" cy="792.6" rx="4.6" ry="2.4" fill="#6e6e6e" filter="url(#b1)"/>
<path d="M365.4,709 C365.4,700.2 376.2,700.2 376.2,709 L375.8,738 L366.0,738 Z" fill="url(#o1g)" filter="url(#b1)"/>
<rect x="366.5" y="732.6" width="9" height="2.2" fill="#999" opacity=".5" filter="url(#b3)"/>
<ellipse cx="370.8" cy="759.0" rx="4.8" ry="6.5" fill="#7a7a7a" opacity=".8" filter="url(#b2)"/>
<rect x="366.8" y="733" width="8.6" height="24" fill="#a0a0a0" opacity=".6" filter="url(#b2)"/>
<rect x="367" y="722" width="8.4" height="14" fill="#4a4a4a" opacity=".45" filter="url(#b2)"/>
<ellipse cx="370.5" cy="790.4" rx="6.6" ry="3.7" fill="#b4b4b4" stroke="#2e2e2e" stroke-width="1.8" filter="url(#b3)"/>
<rect x="384.2" y="719" width="10.4" height="36" rx="5" fill="url(#o2g)" filter="url(#b2)"/>
<ellipse cx="389.8" cy="788.4" rx="7.0" ry="3.8" fill="#3a3a3a" filter="url(#b3)"/>
<ellipse cx="389.8" cy="788.2" rx="4" ry="1.6" fill="#555" filter="url(#b1)"/>
</svg>
</body></html>
